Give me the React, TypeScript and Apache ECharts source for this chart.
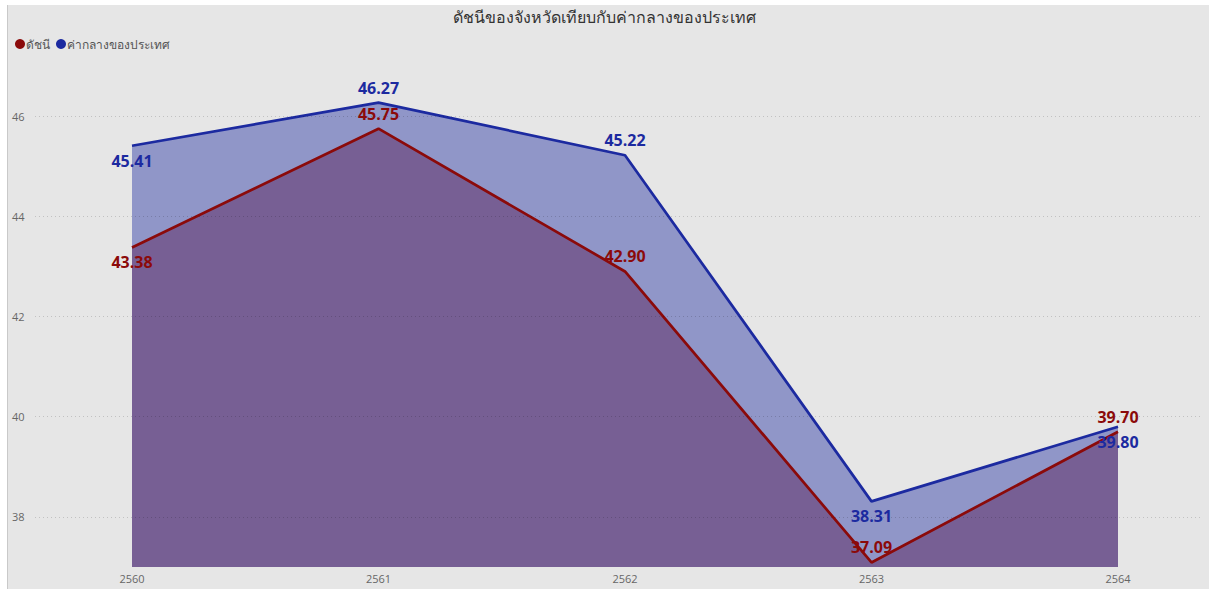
import React, { useEffect, useRef } from "react";
import * as echarts from "echarts";

const years = ["2560", "2561", "2562", "2563", "2564"];
const nationalMedian = [45.41, 46.27, 45.22, 38.31, 39.8];
const provinceIndex = [43.38, 45.75, 42.9, 37.09, 39.7];
const yTicks = [38, 40, 42, 44, 46];
const yMin = 37;
const yMax = 48;
const blueLabelPos = ["bottom", "top", "top", "bottom", "bottom"];
const redLabelPos = ["bottom", "top", "top", "top", "top"];

const titleText = "ดัชนีของจังหวัดเทียบกับค่ากลางของประเทศ";
const redName = "ดัชนี";
const blueName = "ค่ากลางของประเทศ";

const FONT = "'Open Sans', 'Noto Sans', 'DejaVu Sans', sans-serif";
const RED = "#8b0a0a";
const BLUE = "#1c2aa0";
const GRID_COLOR = "rgba(0,0,0,0.16)";

export default function App() {
  const ref = useRef<HTMLDivElement>(null);
  useEffect(() => {
    if (!ref.current) return;
    const chart = echarts.init(ref.current, undefined, { renderer: "svg" });
    const mkData = (vals: number[], pos: string[]) =>
      vals.map((v, i) => ({
        value: v,
        label: { position: pos[i], distance: pos[i] === "top" ? 7 : 7 },
      }));
    const splitColors: string[] = [];
    for (let v = yMin; v <= yMax; v++) {
      splitColors.push(yTicks.includes(v) ? GRID_COLOR : "rgba(0,0,0,0)");
    }
    const labelSeries = (name: string, vals: number[], pos: string[], color: string) => ({
      name,
      type: "line",
      xAxisIndex: 1,
      yAxisIndex: 1,
      data: mkData(vals, pos),
      symbol: "circle",
      symbolSize: 0.1,
      showSymbol: true,
      z: 10,
      itemStyle: { color },
      lineStyle: { opacity: 0, width: 0 },
      label: {
        show: true,
        formatter: (p: any) => Number(p.value).toFixed(2),
        color,
        fontFamily: FONT,
        fontSize: 16,
        fontWeight: "bold",
      },
    });
    chart.setOption({
      animation: false,
      backgroundColor: "#ffffff",
      textStyle: { fontFamily: FONT },
      graphic: [
        {
          type: "rect",
          z: -10,
          silent: true,
          shape: { x: 7, y: 5, width: 1202, height: 584 },
          style: { fill: "#e6e6e6" },
        },
        {
          type: "line",
          z: -9,
          silent: true,
          shape: { x1: 7.5, y1: 5, x2: 7.5, y2: 589 },
          style: { stroke: "#c9c9c9", lineWidth: 1 },
        },
      ],
      title: {
        text: titleText,
        left: "center",
        top: 4,
        textStyle: { fontFamily: FONT, fontSize: 16, fontWeight: "normal", color: "#333333" },
      },
      legend: {
        left: 10,
        top: 33,
        itemGap: 6,
        itemWidth: 10,
        itemHeight: 10,
        icon: "circle",
        textStyle: { fontFamily: FONT, fontSize: 12, color: "#555555", padding: [0, 0, 0, -4] },
        data: [
          { name: redName, itemStyle: { color: RED } },
          { name: blueName, itemStyle: { color: BLUE } },
        ],
      },
      grid: [
        { left: 35, right: 8, top: 16, bottom: 22 },
        { left: 132, right: 91, top: 16, bottom: 22 },
      ],
      xAxis: [
        { type: "value", gridIndex: 0, min: 0, max: 1, show: false },
        {
          type: "category",
          gridIndex: 1,
          data: years,
          boundaryGap: false,
          axisLine: { show: false },
          axisTick: { show: false },
          axisLabel: { fontFamily: FONT, fontSize: 11, color: "#666666", margin: 6 },
        },
      ],
      yAxis: [
        {
          type: "value",
          gridIndex: 0,
          min: yMin,
          max: yMax,
          interval: 1,
          z: 5,
          splitLine: {
            show: true,
            lineStyle: { color: splitColors, type: [1, 3], width: 1 },
          },
          axisLine: { show: false },
          axisTick: { show: false },
          axisLabel: {
            fontFamily: FONT,
            fontSize: 11,
            color: "#666666",
            align: "left",
            margin: 23,
            formatter: (v: number) => (yTicks.includes(v) ? String(v) : ""),
          },
        },
        {
          type: "value",
          gridIndex: 1,
          min: yMin,
          max: yMax,
          interval: 1,
          show: false,
          splitLine: { show: false },
        },
      ],
      series: [
        {
          name: blueName,
          type: "line",
          xAxisIndex: 1,
          yAxisIndex: 1,
          data: nationalMedian,
          showSymbol: false,
          z: 2,
          itemStyle: { color: BLUE },
          lineStyle: { color: BLUE, width: 2.7 },
          areaStyle: { color: "#9096c8", opacity: 1 },
        },
        {
          name: redName,
          type: "line",
          xAxisIndex: 1,
          yAxisIndex: 1,
          data: provinceIndex,
          showSymbol: false,
          z: 3,
          itemStyle: { color: RED },
          lineStyle: { color: RED, width: 2.7 },
          areaStyle: { color: "#775f94", opacity: 1 },
        },
        labelSeries(blueName, nationalMedian, blueLabelPos, BLUE),
        labelSeries(redName, provinceIndex, redLabelPos, RED),
      ],
    });
    return () => chart.dispose();
  }, []);
  return (
    <div
      ref={ref}
      style={{ position: "absolute", left: 0, top: 0, width: 1209, height: 589 }}
    />
  );
}
